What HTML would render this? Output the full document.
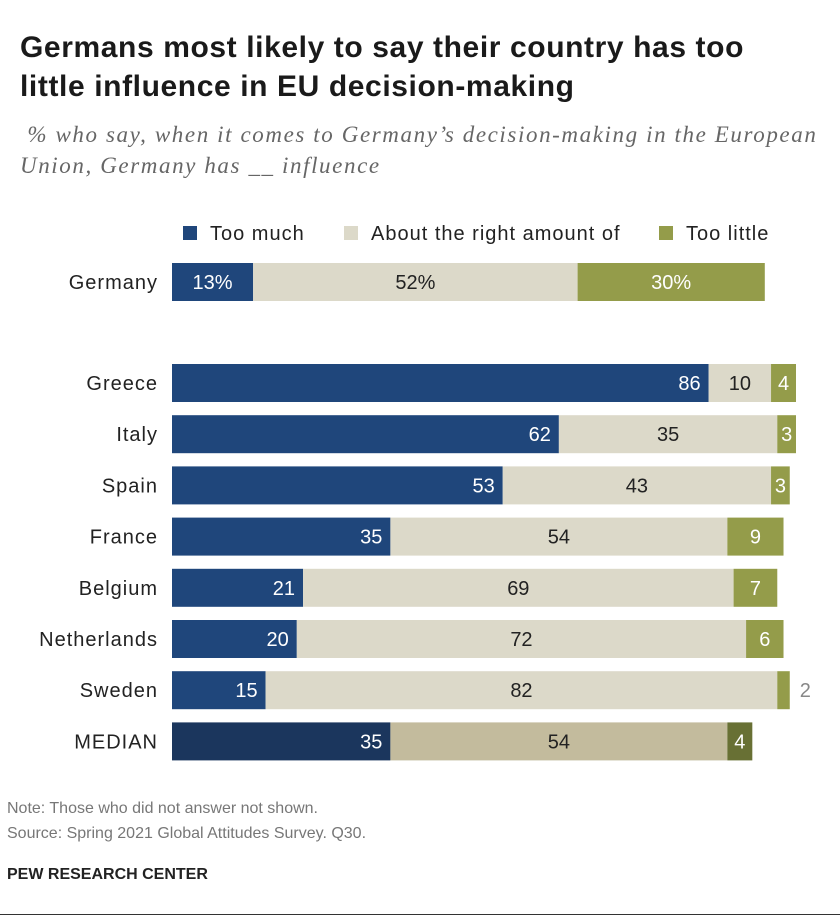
<!DOCTYPE html>
<html><head><meta charset="utf-8">
<style>
body{margin:0;background:#fff;font-family:"Liberation Sans",sans-serif;}
#wrap{position:relative;width:840px;height:921px;overflow:hidden;}
.t{position:absolute;white-space:nowrap;}
</style></head>
<body>
<div id="wrap">
<div class="t" style="left:20px;top:28px;font-size:30px;letter-spacing:0.6px;font-weight:bold;color:#1a1a1a;line-height:39px;">Germans most likely to say their country has too<br>little influence in EU decision-making</div>
<div class="t" style="left:20px;top:119px;font-family:'Liberation Serif',serif;font-style:italic;font-size:23px;letter-spacing:1.6px;color:#666;line-height:31px;">&nbsp;% who say, when it comes to Germany’s decision-making in the European<br>Union, Germany has __ influence</div>
<svg id="chart" width="840" height="921" style="position:absolute;left:0;top:0"></svg>
<div class="t" style="left:7px;top:800px;font-size:16px;color:#777;">Note: Those who did not answer not shown.</div>
<div class="t" style="left:7px;top:825px;font-size:16px;color:#777;">Source: Spring 2021 Global Attitudes Survey. Q30.</div>
<div class="t" style="left:7px;top:866px;font-size:16px;font-weight:bold;color:#222;">PEW RESEARCH CENTER</div>
<div style="position:absolute;left:0;top:914px;width:840px;height:1px;background:#333;"></div>
</div>
<script>
const categories=["Germany","Greece","Italy","Spain","France","Belgium","Netherlands","Sweden","MEDIAN"];
const tooMuch=[13,86,62,53,35,21,20,15,35];
const rightAmount=[52,10,35,43,54,69,72,82,54];
const tooLittle=[30,4,3,3,9,7,6,2,4];
const seriesNames=["Too much","About the right amount of","Too little"];
const svg=document.getElementById('chart');
const NS='http://www.w3.org/2000/svg';
const x0=172, scale=6.24;
function xs(v){return v*scale;}
function yRow(i){return i===0?263:364+(i-1)*51.2;}
const bh=38;
const colors=[["#1f467b","#dcd9c9","#949c4a"],["#1b365d","#c3bb9d","#687034"]];
const txtCol=["#fff","#222","#fff"];
const FS=20, LS='1px';
function el(tag,attrs){const e=document.createElementNS(NS,tag);for(const k in attrs)e.setAttribute(k,attrs[k]);svg.appendChild(e);return e;}
const lg=[[183,"Too much"],[344,"About the right amount of"],[659,"Too little"]];
lg.forEach((l,j)=>{
  const r=el('rect',{x:l[0],y:226,width:14,height:14,fill:colors[0][j]});
  
  
  const t=el('text',{x:l[0]+27,y:240,'font-size':FS,'letter-spacing':LS,fill:'#222'});
  t.textContent=seriesNames[j];
  
  
});
categories.forEach((c,i)=>{
  const y=yRow(i);
  const lab=el('text',{x:158,y:y+bh/2+7,'font-size':FS,'letter-spacing':LS,fill:'#222','text-anchor':'end'});
  lab.textContent=c;
  
  
  const vals=[tooMuch[i],rightAmount[i],tooLittle[i]];
  const pal=colors[i===8?1:0];
  let x=x0;
  vals.forEach((v,j)=>{
    const w=xs(v);
    const r=el('rect',{x:x,y:y,width:w,height:bh,fill:pal[j]});
    
    
    const lbl=i===0?v+'%':String(v);
    let tx, anchor, col=txtCol[j];
    if(i===0){tx=x+w/2;anchor='middle';}
    else if(j===0){tx=x+w-8;anchor='end';}
    else {tx=x+w/2;anchor='middle';}
    if(j===2&&w<15){tx=x+w+10;anchor='start';col='#888';}
    const t=el('text',{x:tx,y:y+bh/2+7,'font-size':FS,fill:col,'text-anchor':anchor});
    t.textContent=lbl;
    
    
    x+=w;
  });
});
</script>
</body></html>
